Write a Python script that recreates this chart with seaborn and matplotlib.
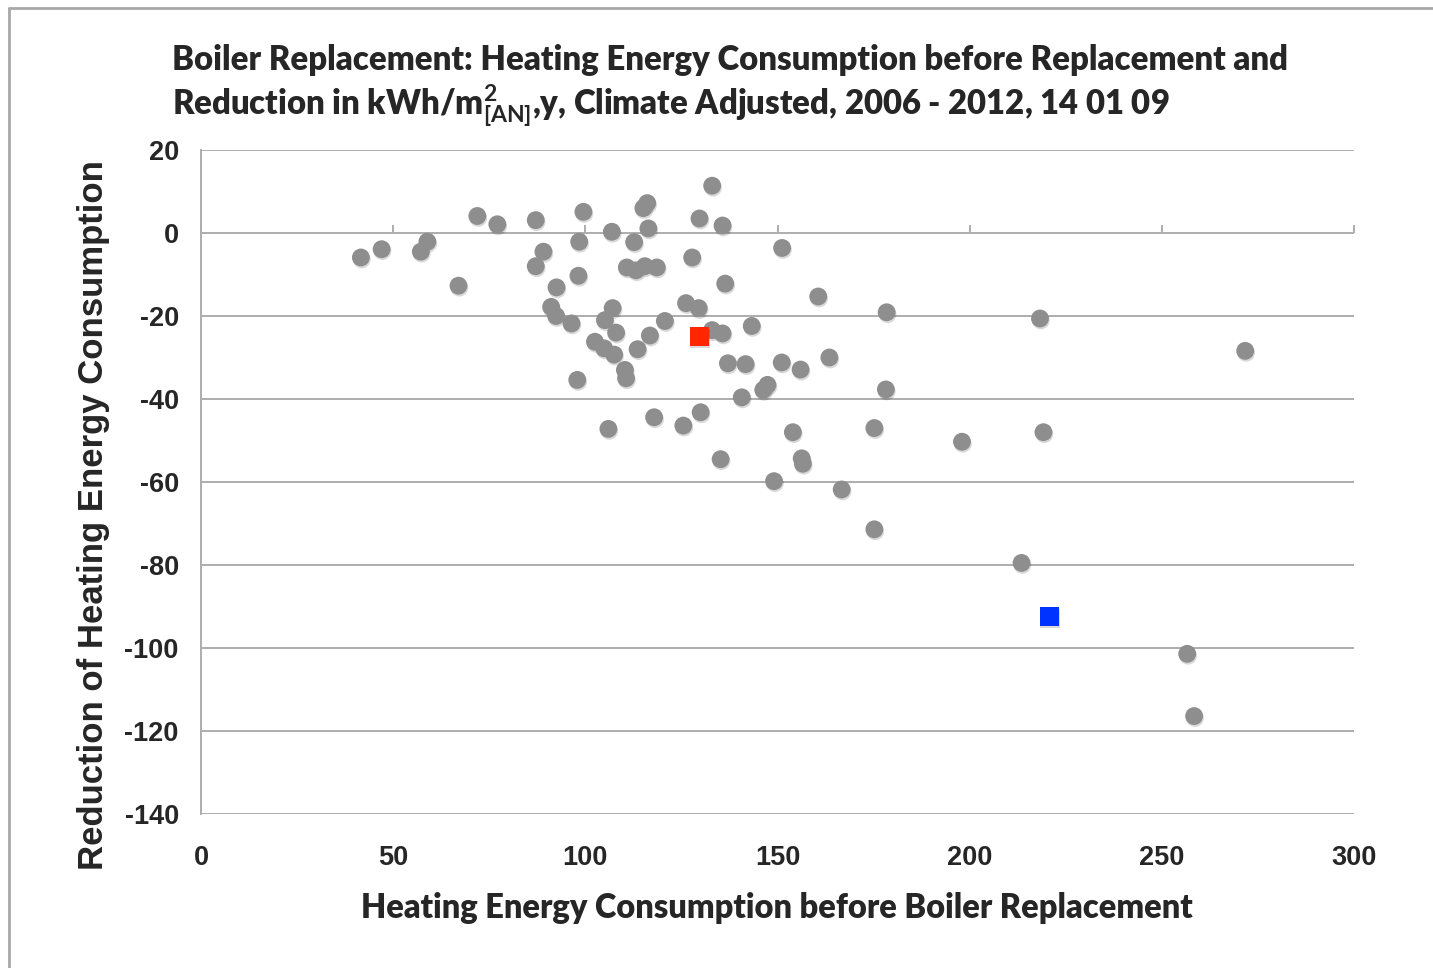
import matplotlib
matplotlib.use("Agg")
import matplotlib.pyplot as plt
import matplotlib.patheffects as pe
from matplotlib.lines import Line2D
import seaborn as sns
import pandas as pd

# ---------------- data ----------------
consumption_before = [
    41.6, 47.0, 57.2, 58.9, 67.0, 71.9, 77.1, 87.1, 99.5, 106.9,
    98.4, 89.1, 87.1, 92.5, 98.2, 91.1, 92.4, 96.4, 107.1, 105.1,
    108.0, 102.5, 104.9, 107.5, 110.3, 110.6, 97.9, 113.6, 116.8, 120.7,
    126.2, 129.5, 133.0, 135.7, 136.4, 127.8, 135.7, 129.7, 133.0, 116.1,
    115.1, 116.4, 112.7, 110.8, 113.2, 115.5, 118.6, 143.3, 160.6, 178.4,
    137.1, 141.7, 151.1, 156.0, 163.5, 140.7, 146.3, 147.4, 178.2, 106.0,
    117.9, 125.5, 130.0, 154.0, 175.2, 135.2, 156.3, 156.6, 149.1, 166.7,
    151.2, 175.2, 213.5, 198.0, 219.2, 218.3, 271.7, 256.6, 258.4,
]
reduction = [
    -5.9, -3.9, -4.5, -2.1, -12.7, 4.1, 2.1, 3.1, 5.1, 0.3,
    -2.1, -4.5, -8.0, -13.1, -10.3, -17.8, -20.0, -21.8, -18.1, -21.0,
    -24.0, -26.2, -27.8, -29.3, -33.0, -35.0, -35.4, -28.0, -24.7, -21.2,
    -16.9, -18.1, -23.4, -24.2, -12.2, -5.9, 1.8, 3.5, 11.4, 7.2,
    6.0, 1.1, -2.2, -8.3, -9.0, -8.0, -8.3, -22.4, -15.3, -19.1,
    -31.4, -31.6, -31.2, -32.9, -30.0, -39.6, -37.8, -36.6, -37.7, -47.2,
    -44.4, -46.4, -43.2, -48.0, -47.0, -54.5, -54.3, -55.6, -59.8, -61.8,
    -3.6, -71.4, -79.5, -50.3, -48.0, -20.6, -28.4, -101.4, -116.4,
]
red_x = [129.6]
red_y = [-25.0]
blue_x = [220.7]
blue_y = [-92.5]

x_ticks = [0, 50, 100, 150, 200, 250, 300]
y_ticks = [20, 0, -20, -40, -60, -80, -100, -120, -140]

title_line1 = "Boiler Replacement: Heating Energy Consumption before Replacement and"
title_line2 = r"Reduction in kWh/m$^{2}_{[AN]}$,y, Climate Adjusted, 2006 - 2012, 14 01 09"
x_label = "Heating Energy Consumption before Boiler Replacement"
y_label = "Reduction of Heating Energy Consumption"

# ---------------- style ----------------
sns.set_style("white")
plt.rcParams['font.family'] = ['Liberation Sans', 'DejaVu Sans']
plt.rcParams['mathtext.fontset'] = 'custom'
plt.rcParams['mathtext.rm'] = 'Lato:bold'
plt.rcParams['mathtext.it'] = 'Lato:bold'
plt.rcParams['mathtext.bf'] = 'Lato:bold'

W, H = 1433, 968
fig = plt.figure(figsize=(W / 100, H / 100), dpi=100)
fig.patch.set_facecolor('white')

left, right, top, bottom = 201, 1354, 150, 814
ax = fig.add_axes([left / W, 1 - bottom / H, (right - left) / W, (bottom - top) / H])

grid_col = '#ADADAD'
shadow = [pe.SimplePatchShadow(offset=(0.6, -1.4), shadow_rgbFace='#000000', alpha=0.15), pe.Normal()]

df = pd.DataFrame({'x': consumption_before, 'y': reduction})
sns.scatterplot(data=df, x='x', y='y', color='#8E8E8E', s=165, edgecolor='none',
                linewidth=0, ax=ax, zorder=3, path_effects=shadow)
sns.scatterplot(x=red_x, y=red_y, color='#FF2600', marker='s', s=190, edgecolor='none',
                linewidth=0, ax=ax, zorder=4, path_effects=shadow)
sns.scatterplot(x=blue_x, y=blue_y, color='#0033FF', marker='s', s=190, edgecolor='none',
                linewidth=0, ax=ax, zorder=4, path_effects=shadow)

ax.set_xlim(0, 300)
ax.set_ylim(-140, 20)
ax.set_xticks(x_ticks)
ax.set_yticks(y_ticks)
ax.set_xticklabels([str(v) for v in x_ticks])
ax.set_yticklabels([str(v) for v in y_ticks])
ax.set_xlabel('')
ax.set_ylabel('')

ax.yaxis.grid(True, color=grid_col, linewidth=1.4)
ax.xaxis.grid(False)
ax.set_axisbelow(True)
for s in ['top', 'right', 'bottom']:
    ax.spines[s].set_visible(False)
ax.spines['left'].set_color(grid_col)
ax.spines['left'].set_linewidth(1.4)
ax.tick_params(axis='y', direction='out', length=6, width=1.4, color=grid_col, pad=10,
               labelsize=19.5)
ax.tick_params(axis='x', length=0, pad=22, labelsize=19.5)
for lab in ax.get_xticklabels() + ax.get_yticklabels():
    lab.set_fontweight('bold')

# horizontal axis crossing at y = 0 with downward ticks
sec = ax.secondary_xaxis(140 / 160)
sec.set_xticks(x_ticks)
sec.set_xticklabels([])
sec.tick_params(direction='out', length=6, width=1.4, color=grid_col)
sec.spines['bottom'].set_visible(False)
sec.spines['top'].set_visible(False)

# texts
fig.text(172 / W, 1 - 70 / H, title_line1, family=['Lato', 'DejaVu Sans'], fontweight='heavy',
         fontsize=23.7, ha='left', va='baseline')
fig.text(172 / W, 1 - 115 / H, title_line2, family=['Lato', 'DejaVu Sans'], fontweight='heavy',
         fontsize=23.7, ha='left', va='baseline')
fig.text(777 / W, 1 - 918 / H, x_label, family=['Lato', 'DejaVu Sans'], fontweight='heavy',
         fontsize=23.5, ha='center', va='baseline')
fig.text(93 / W, 1 - 515 / H, y_label, fontweight='bold', fontsize=25,
         rotation=90, ha='center', va='center')

# outer frame lines
fig.add_artist(Line2D([9 / W, 1], [1 - 7.5 / H, 1 - 7.5 / H], transform=fig.transFigure,
                      color='#A8A8A8', linewidth=2))
fig.add_artist(Line2D([9 / W, 9 / W], [0, 1 - 7.5 / H], transform=fig.transFigure,
                      color='#A8A8A8', linewidth=2))

fig.savefig('out.png', dpi=100, facecolor='white')
